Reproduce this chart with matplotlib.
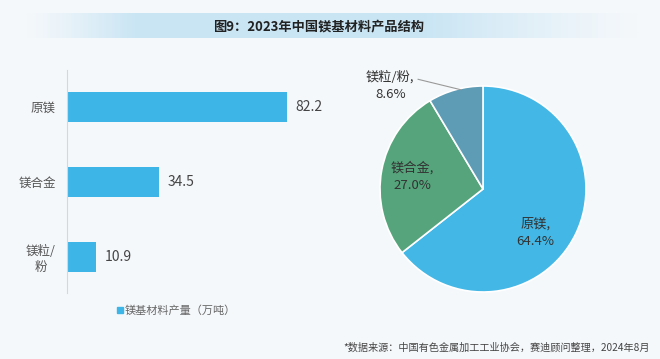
import matplotlib
matplotlib.use("Agg")
import matplotlib.pyplot as plt
import numpy as np
from matplotlib.patches import Rectangle

plt.rcParams['font.family'] = ['Noto Sans CJK SC', 'DejaVu Sans']

# ---- data ----
title = "图9：2023年中国镁基材料产品结构"
bar_categories = ["原镁", "镁合金", "镁粒/\n粉"]
bar_values = [82.2, 34.5, 10.9]
legend_label = "镁基材料产量（万吨）"
pie_labels = ["原镁", "镁合金", "镁粒/粉"]
pie_shares = [64.4, 27.0, 8.6]
source_text = "*数据来源：中国有色金属加工工业协会，赛迪顾问整理，2024年8月"

W, H = 660, 359
bg = "#f5f8fb"
fig = plt.figure(figsize=(W / 100, H / 100), dpi=100, facecolor=bg)

def fx(px):
    return px / W

def fy(py):
    return 1 - py / H

# ---- title band ----
band_ax = fig.add_axes([fx(25), fy(38), fx(615), (38 - 13) / H])
xs = np.linspace(0, 1, 400)
alpha = np.clip(np.minimum(xs / 0.18, (1 - xs) / 0.35), 0, 1) ** 1.2
base = np.array([0.79, 0.90, 0.96])
img = np.zeros((1, len(xs), 4))
img[0, :, :3] = base
img[0, :, 3] = alpha
band_ax.imshow(img, aspect="auto", extent=[0, 1, 0, 1])
band_ax.axis("off")
fig.text(fx(319), fy(26), title, ha="center", va="center", fontsize=9.5,
         fontweight="bold", color="#222222")

# ---- bar chart ----
bar_color = "#3db5e6"
left, top, bottom = 67, 70, 293
scale = 220 / 82.2  # px per unit
xmax = 100
ax = fig.add_axes([fx(left), fy(bottom), fx(scale * xmax), (bottom - top) / H])
ax.set_facecolor("none")
ypos = np.arange(len(bar_categories))
ax.barh(ypos, bar_values, height=0.4, color=bar_color)
ax.set_xlim(0, xmax)
ax.set_ylim(2.48, -0.49)
ax.set_yticks(ypos)
ax.set_yticklabels(bar_categories, fontsize=9, color="#555555",
                   multialignment="center")
ax.tick_params(axis="y", length=0, pad=8)
ax.set_xticks([])
for s in ["top", "right", "bottom"]:
    ax.spines[s].set_visible(False)
ax.spines["left"].set_color("#d4d8dc")
ax.spines["left"].set_linewidth(0.8)
for y, v in zip(ypos, bar_values):
    ax.annotate(f"{v:.1f}", (v, y), xytext=(6, 0), textcoords="offset points",
                ha="left", va="center", fontsize=10, color="#444444")

# legend
fig.patches.append(Rectangle((fx(117), fy(313)), fx(6), 6 / H,
                             transform=fig.transFigure, color=bar_color))
fig.text(fx(125), fy(310.5), legend_label, ha="left", va="center",
         fontsize=8, color="#666666")

# ---- pie chart ----
cx, cy, R = 483, 189, 103
half = 115
pax = fig.add_axes([fx(cx - half), fy(cy + half), fx(2 * half), 2 * half / H])
pax.set_facecolor("none")
pie_colors = ["#43b7e5", "#55a47b", "#5e9bb5"]
pax.pie(pie_shares, colors=pie_colors, startangle=90, counterclock=False,
        radius=1.0, wedgeprops=dict(edgecolor="white", linewidth=1.2))
lim = half / R
pax.set_xlim(-lim, lim)
pax.set_ylim(-lim, lim)
pax.set_aspect("equal")
pax.axis("off")

label_pos = [(0.51, -0.42), (-0.69, 0.12), (-0.90, 1.0)]
for (lx, ly), name, share in zip(label_pos, pie_labels, pie_shares):
    pax.text(lx, ly, f"{name},\n{share:.1f}%", ha="center", va="center",
             fontsize=9.5, color="#333333", linespacing=1.45)
pax.plot([-0.63, -0.22], [1.065, 0.965], color="#999999", lw=0.8,
         clip_on=False)

# ---- source ----
fig.text(fx(650), fy(348), source_text, ha="right", va="center",
         fontsize=7.3, color="#444444")

fig.savefig("out.png", dpi=100, facecolor=bg)
